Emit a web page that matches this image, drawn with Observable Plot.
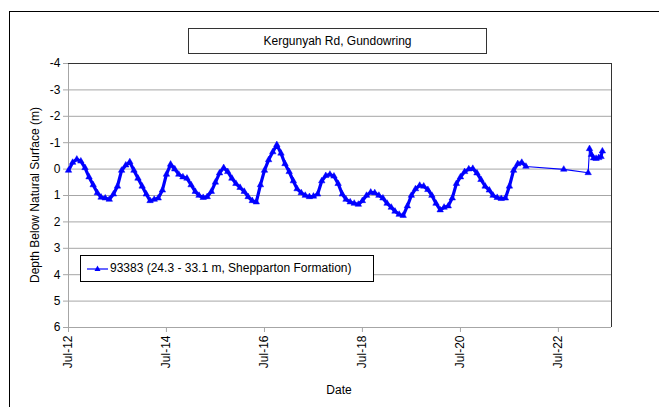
<!DOCTYPE html>
<html>
<head>
<meta charset="utf-8">
<script src="https://cdn.jsdelivr.net/npm/d3@7"></script>
<script src="https://cdn.jsdelivr.net/npm/@observablehq/plot@0.6"></script>
<style>
  html, body { margin: 0; padding: 0; background: #fff; }
  #wrap { position: relative; width: 659px; height: 407px; overflow: hidden; font-family: "Liberation Sans", Arial, sans-serif; }
  #outer { position: absolute; left: 9px; top: 11px; width: 800px; height: 600px; border: 1px solid #000; box-sizing: border-box; }
  #title { position: absolute; left: 188px; top: 28px; width: 299px; height: 26px; border: 1px solid #333; box-sizing: border-box; background: #fff;
           font-size: 12px; line-height: 24px; text-align: center; color: #000; }
  #ylab { position: absolute; left: 35px; top: 195px; transform: translate(-50%, -50%) rotate(-90deg); white-space: nowrap; font-size: 12px; color: #000; }
  #xlab { position: absolute; left: 339px; top: 390px; transform: translate(-50%, -50%); font-size: 12px; color: #000; }
  #legend { position: absolute; left: 80px; top: 255px; width: 294px; height: 27px; border: 1px solid #000; box-sizing: border-box; background: #fff;
            font-size: 12px; line-height: 25px; color: #000; white-space: nowrap; }
  #legend svg { position: absolute; left: 5px; top: 7px; }
  #legend span { position: absolute; left: 29px; top: 0; }
  #chart { position: absolute; left: 0; top: 0; }
</style>
</head>
<body>
<div id="wrap">
  <div id="outer"></div>
  <div id="chart"></div>
  <div id="title"></div>
  <div id="ylab"></div>
  <div id="xlab"></div>
  <div id="legend"></div>
</div>
<script>
// ---- Data ----
const chartTitle = "Kergunyah Rd, Gundowring";
const yTitle = "Depth Below Natural Surface (m)";
const xTitle = "Date";
const seriesName = "93383 (24.3 - 33.1 m, Shepparton Formation)";

// Monthly readings, starting July 2012 (one value per month) through Nov 2021
const denseStart = "2012-07-01";
const denseDepths = [
  0.05, -0.25, -0.37, -0.30, -0.05, 0.30, 0.60, 0.90, 1.07, 1.10, 1.15, 0.95,   // Jul12-Jun13
  0.65, 0.05, -0.15, -0.27, 0.05, 0.35, 0.65, 0.95, 1.20, 1.15, 1.10, 0.80,     // Jul13-Jun14
  0.20, -0.18, 0.00, 0.20, 0.30, 0.35, 0.60, 0.85, 1.00, 1.08, 1.05, 0.85,      // Jul14-Jun15
  0.50, 0.15, -0.05, 0.10, 0.35, 0.55, 0.70, 0.85, 1.05, 1.20, 1.25, 0.60,      // Jul15-Jun16
  0.05, -0.35, -0.65, -0.92, -0.60, -0.20, 0.10, 0.45, 0.75, 0.90, 1.00, 1.05,  // Jul16-Jun17
  1.03, 0.95, 0.45, 0.25, 0.20, 0.27, 0.55, 0.95, 1.15, 1.25, 1.30, 1.34,       // Jul17-Jun18
  1.20, 1.00, 0.88, 0.90, 1.00, 1.10, 1.30, 1.45, 1.60, 1.72, 1.76, 1.40,       // Jul18-Jun19
  1.00, 0.75, 0.62, 0.65, 0.78, 1.00, 1.30, 1.55, 1.45, 1.40, 1.10, 0.55,       // Jul19-Jun20
  0.30, 0.10, 0.00, -0.02, 0.15, 0.40, 0.65, 0.80, 1.00, 1.08, 1.12, 1.10,      // Jul20-Jun21
  0.65, 0.05, -0.20, -0.25, -0.10                                               // Jul21-Nov21
];

// Sparse later readings, then a denser cluster in 2023
const sparseDates  = ["2022-08-10", "2023-02-08"];
const sparseDepths = [0.01, 0.14];
const clusterDates  = ["2023-02-18", "2023-03-05", "2023-03-20", "2023-04-08", "2023-04-28", "2023-05-15", "2023-05-25"];
const clusterDepths = [-0.77, -0.55, -0.42, -0.40, -0.43, -0.47, -0.68];

const yTicks = [-4, -3, -2, -1, 0, 1, 2, 3, 4, 5, 6];
const xTickDates = ["2012-07-01", "2014-07-01", "2016-07-01", "2018-07-01", "2020-07-01", "2022-07-01"];
const xTickLabels = ["Jul-12", "Jul-14", "Jul-16", "Jul-18", "Jul-20", "Jul-22"];
const xDomain = ["2012-07-01", "2023-08-01"];

// ---- Build tables ----
const start = new Date(denseStart);
const dense = denseDepths.map((d, i) => ({date: d3.utcMonth.offset(start, i), depth: d}));
const sparse = sparseDates.map((s, i) => ({date: new Date(s), depth: sparseDepths[i]}));
const cluster = clusterDates.map((s, i) => ({date: new Date(s), depth: clusterDepths[i]}));
const all = dense.concat(sparse, cluster);

const xt = xTickDates.map(s => new Date(s));
const labelOf = new Map(xt.map((d, i) => [+d, xTickLabels[i]]));
const xd = xDomain.map(s => new Date(s));

const blue = "#0000ff";
const grid = "#a6a6a6";

const chart = Plot.plot({
  width: 659,
  height: 407,
  marginLeft: 68,
  marginRight: 48,
  marginTop: 63,
  marginBottom: 80,
  style: {background: "transparent", fontFamily: "'Liberation Sans', Arial, sans-serif", fontSize: "12px", color: "#000", overflow: "visible"},
  x: {type: "utc", domain: xd},
  y: {domain: [-4, 6], reverse: true},
  marks: [
    Plot.ruleY(yTicks, {stroke: grid, strokeWidth: 1}),
    Plot.ruleX([xd[0]], {stroke: grid, strokeWidth: 1}),
    Plot.ruleY([-4], {stroke: "#333", strokeWidth: 1}),
    Plot.ruleX([xd[1]], {stroke: "#333", strokeWidth: 1}),
    Plot.axisY({ticks: yTicks, tickFormat: d => String(d), tickSize: 5, tickPadding: 3, stroke: grid, fill: "#000", label: null, fontSize: 12}),
    Plot.axisX({ticks: xt, tickFormat: d => labelOf.get(+d), tickRotate: -90, tickSize: 5, tickPadding: 3, stroke: grid, fill: "#000", label: null, fontSize: 12}),
    Plot.line(all, {x: "date", y: "depth", stroke: blue, strokeWidth: 1.1}),
    Plot.line(dense, {x: "date", y: "depth", stroke: blue, strokeWidth: 3.2}),
    Plot.line(cluster, {x: "date", y: "depth", stroke: blue, strokeWidth: 3}),
    Plot.dot(all, {x: "date", y: "depth", symbol: "triangle", r: 2.4, fill: blue, stroke: blue, strokeWidth: 0.5})
  ]
});
document.getElementById("chart").appendChild(chart);

document.getElementById("title").textContent = chartTitle;
document.getElementById("ylab").textContent = yTitle;
document.getElementById("xlab").textContent = xTitle;

const leg = document.getElementById("legend");
leg.innerHTML = `<svg width="24" height="12" viewBox="0 0 24 12">
  <line x1="1" y1="6" x2="22" y2="6" stroke="${blue}" stroke-width="1.2"></line>
  <path d="M11.5 2.5 L14.5 8 L8.5 8 Z" fill="${blue}"></path>
</svg><span></span>`;
leg.querySelector("span").textContent = seriesName;
</script>
</body>
</html>
